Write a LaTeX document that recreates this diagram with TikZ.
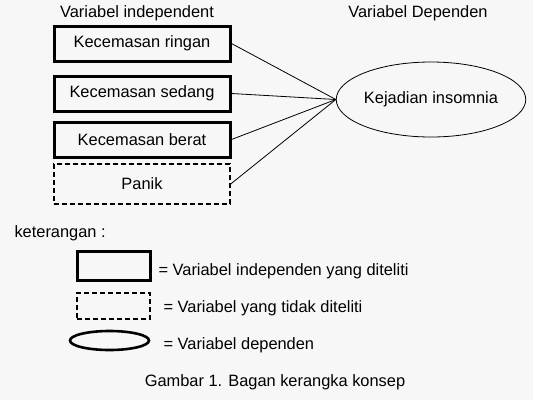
\documentclass[tikz,border=0pt]{standalone}
\usepackage{fontspec}
\setmainfont{Liberation Sans}
\usetikzlibrary{shapes.geometric}

\begin{document}
\begin{tikzpicture}[x=1pt, y=-1pt,
	every node/.style={font=\fontsize{16.4}{19}\selectfont},
	varbox/.style={draw=black, line width=3pt, minimum width=176pt, minimum height=35pt, inner sep=0pt},
	varnot/.style={draw=black, line width=1.4pt, dash pattern=on 5pt off 3pt, minimum width=176pt, minimum height=40pt, inner sep=0pt},
	vardep/.style={draw=black, ellipse, line width=0.8pt, minimum width=182pt, minimum height=75pt, inner sep=0pt}]
	
	%Background
	\fill[black!3] (0,0) rectangle (533,400);
	\useasboundingbox (0,0) rectangle (533,400);
	
	%Titles
	\node[anchor=base] (tind) at (137,17) {Variabel independent};
	\node[anchor=base] (tdep) at (418,17) {Variabel Dependen};
	
	%Variables
	\node[varbox] (ringan) at (142,43.5) {Kecemasan ringan};
	\node[varbox] (sedang) at (142,93.5) {Kecemasan sedang};
	\node[varbox] (berat) at (142,139.5) {Kecemasan berat};
	\node[varnot] (panik) at (142,184) {Panik};
	\node[vardep] (insomnia) at (431,99.5) {Kejadian insomnia};
	
	%Lines
	\foreach \v in {ringan,sedang,berat,panik}
	{
		\draw[line width=0.8pt] (\v.east) -- (insomnia.west);
	}
	
	%Legend
	\node[anchor=base west] (ket) at (11,237) {keterangan :};
	\node[varbox, minimum width=73pt, minimum height=29pt] (lbox) at (113.5,265.5) {};
	\node[varnot, minimum width=73pt, minimum height=26pt] (lnot) at (113.5,306) {};
	\node[vardep, line width=2.6pt, minimum width=79pt, minimum height=19pt] (lell) at (109.5,340.5) {};
	\node[anchor=base west] (tbox) at (155,275) {= Variabel independen yang diteliti};
	\node[anchor=base west] (tnot) at (160,312) {= Variabel yang tidak diteliti};
	\node[anchor=base west] (tell) at (160,349) {= Variabel dependen};
	
	%Caption
	\node[anchor=base] (caption) at (275,386) {Gambar 1. Bagan kerangka konsep};
	
\end{tikzpicture}
\end{document}
